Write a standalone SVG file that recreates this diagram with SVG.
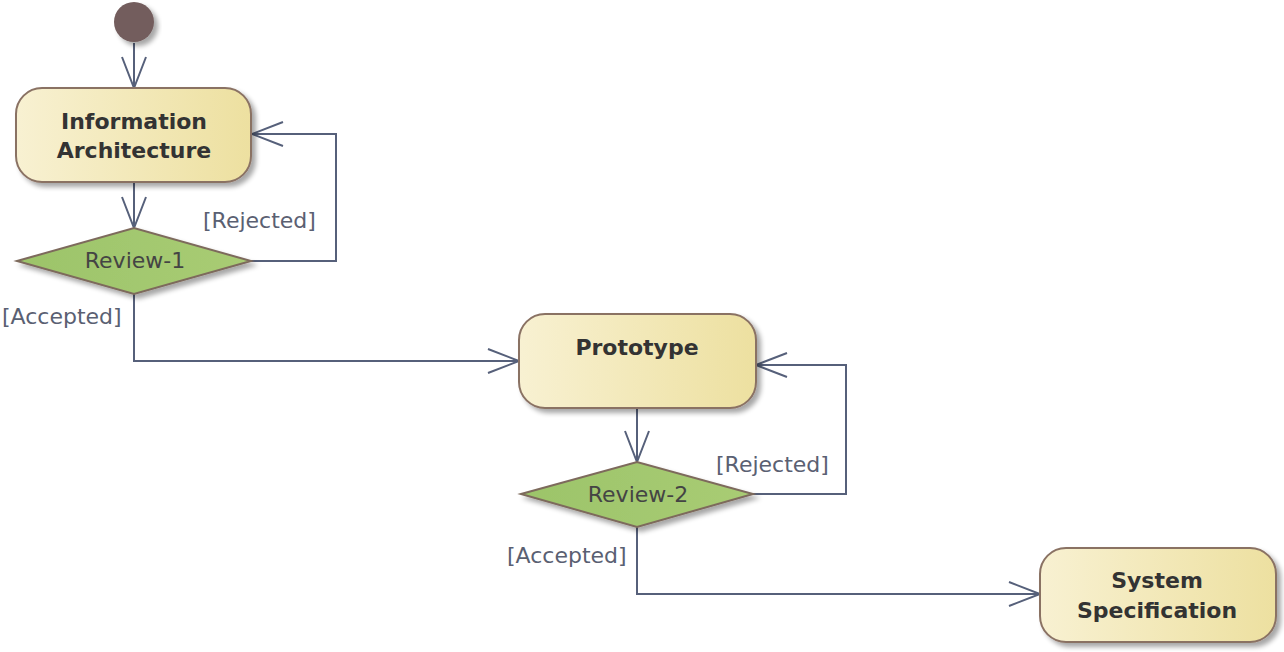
<svg xmlns="http://www.w3.org/2000/svg" width="1284" height="652" viewBox="0 0 1284 652">
<defs>
<linearGradient id="nodeFill" x1="0" y1="0" x2="1" y2="0">
<stop offset="0" stop-color="#f8f1d2"/>
<stop offset="1" stop-color="#ede0a0"/>
</linearGradient>
<linearGradient id="decFill" x1="0" y1="0" x2="1" y2="0">
<stop offset="0" stop-color="#9cc46a"/>
<stop offset="1" stop-color="#a9cc74"/>
</linearGradient>
<filter id="shadow" x="-10%" y="-10%" width="130%" height="140%">
<feGaussianBlur in="SourceAlpha" stdDeviation="2.5"/>
<feOffset dx="4" dy="4" result="b"/>
<feComponentTransfer><feFuncA type="linear" slope="0.35"/></feComponentTransfer>
<feMerge><feMergeNode/><feMergeNode in="SourceGraphic"/></feMerge>
</filter>
<marker id="open" markerUnits="userSpaceOnUse" markerWidth="40" markerHeight="30" viewBox="-34 -15 36 30" refX="0" refY="0" orient="auto">
<path d="M -31 -12 L 0 0 L -31 12" fill="none" stroke="#56607a" stroke-width="2"/>
</marker>
</defs>
<style>
.act{fill:url(#nodeFill);stroke:#8a7264;stroke-width:2;filter:url(#shadow)}
.dec{fill:url(#decFill);stroke:#7d6a5c;stroke-width:2;filter:url(#shadow)}
.ttl{font-family:"DejaVu Sans",Verdana,sans-serif;font-size:22px;font-weight:bold;fill:#333;text-anchor:middle}
.dl{font-family:"DejaVu Sans",Verdana,sans-serif;font-size:22px;fill:#444;text-anchor:middle}
.gl{font-family:"DejaVu Sans",Verdana,sans-serif;font-size:22px;fill:#5a6072}
.edge{fill:none;stroke:#56607a;stroke-width:2;marker-end:url(#open)}
</style>
<g id="connectors">
<path class="edge" d="M134 43 L134 88"/>
<path class="edge" d="M134 182 L134 228"/>
<path class="edge" d="M251 261 L336 261 L336 134 L252 134"/>
<path class="edge" d="M134 294 L134 361 L519 361"/>
<path class="edge" d="M637 408 L637 462"/>
<path class="edge" d="M753 494 L846 494 L846 365 L756 365"/>
<path class="edge" d="M637 527 L637 594 L1040 594"/>
<text class="gl" x="203" y="228">[Rejected]</text>
<text class="gl" x="2" y="324">[Accepted]</text>
<text class="gl" x="716" y="472">[Rejected]</text>
<text class="gl" x="507" y="563">[Accepted]</text>
</g>
<g id="start">
<circle cx="134" cy="22" r="20" fill="#735d5d" filter="url(#shadow)"/>
</g>
<g id="information-architecture">
<rect class="act" x="16" y="88" width="235" height="94" rx="26"/>
<text class="ttl" x="134" y="129">Information</text>
<text class="ttl" x="134" y="158">Architecture</text>
</g>
<g id="review-1">
<polygon class="dec" points="17,261 134,228 251,261 134,294"/>
<text class="dl" x="135" y="268">Review-1</text>
</g>
<g id="prototype">
<rect class="act" x="519" y="314" width="237" height="94" rx="26"/>
<text class="ttl" x="637" y="355">Prototype</text>
</g>
<g id="review-2">
<polygon class="dec" points="521,494 637,462 753,494 637,527"/>
<text class="dl" x="638" y="502">Review-2</text>
</g>
<g id="system-specification">
<rect class="act" x="1040" y="548" width="236" height="94" rx="26"/>
<text class="ttl" x="1157" y="588">System</text>
<text class="ttl" x="1157" y="618">Specification</text>
</g>
</svg>
